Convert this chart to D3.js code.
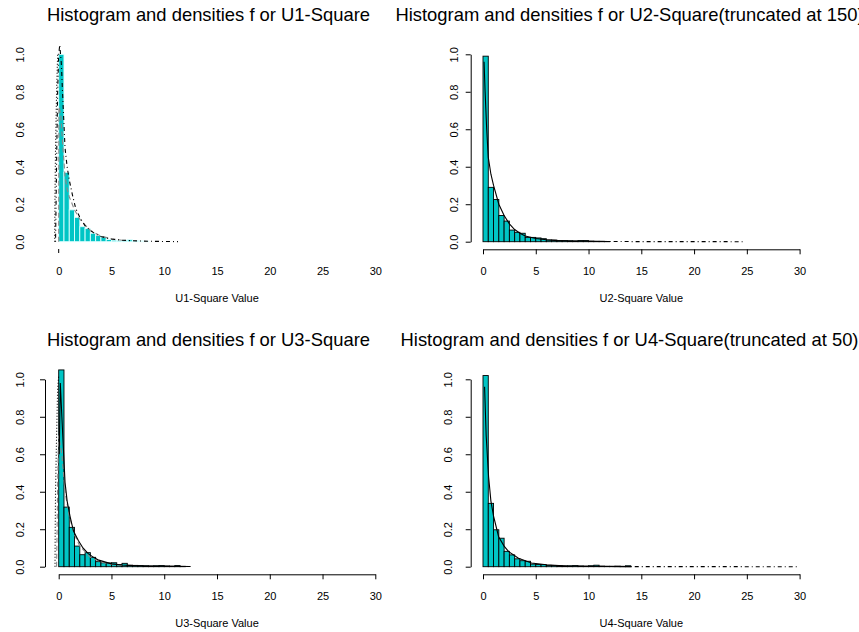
<!DOCTYPE html>
<html>
<head>
<meta charset="utf-8">
<script src="https://cdn.jsdelivr.net/npm/d3@7"></script>
<style>
  body { margin: 0; background: #fff; }
  svg text { font-family: "Liberation Sans", Arial, sans-serif; fill: #000; }
</style>
</head>
<body>
<div id="chart"></div>
<script>
// histogram bin width and axis ticks
const binWidth = 0.5;
const xTicks = [0, 5, 10, 15, 20, 25, 30];
const yTicks = [0, 0.2, 0.4, 0.6, 0.8, 1.0];

const titles = [
  "Histogram and densities f or U1-Square",
  "Histogram and densities f or U2-Square(truncated at 150)",
  "Histogram and densities f or U3-Square",
  "Histogram and densities f or U4-Square(truncated at 50)"
];
const xLabels = ["U1-Square Value", "U2-Square Value", "U3-Square Value", "U4-Square Value"];

// bar heights (density) per 0.5 bin, starting at 0
const u1Hist = [1.0, 0.37, 0.17, 0.13, 0.08, 0.07, 0.045, 0.033, 0.025, 0.012, 0.008, 0.006, 0.008, 0.01, 0.006, 0.004, 0.003];
const u2Hist = [0.99, 0.29, 0.225, 0.14, 0.11, 0.062, 0.05, 0.045, 0.023, 0.023, 0.02, 0.016, 0.009, 0.009, 0.006, 0.006,
                0.005, 0.004, 0.006, 0.006, 0.003, 0.002, 0.002, 0.001];
const u3Hist = [1.05, 0.318, 0.21, 0.11, 0.064, 0.075, 0.05, 0.027, 0.021, 0.02, 0.021, 0.012, 0.018, 0.008, 0.007, 0.006,
                0.005, 0.004, 0.005, 0.006, 0.004, 0.003, 0.006, 0.002];
const u4Hist = [1.02, 0.338, 0.197, 0.152, 0.082, 0.063, 0.042, 0.032, 0.029, 0.014, 0.012, 0.011, 0.007, 0.006, 0.005, 0.004,
                0.005, 0.006, 0.004, 0.003, 0.005, 0.008, 0.003, 0.002, 0.002, 0.003, 0.002, 0.005];

// density curves, [x, y]
const u1DotDash = [[-0.3, 0], [-0.25, 0.2], [-0.18, 0.5], [-0.1, 0.8], [0, 1.0], [0.1, 1.05], [0.25, 0.95], [0.4, 0.75],
                   [0.6, 0.5], [0.8, 0.4], [1.0, 0.33], [1.3, 0.25], [1.6, 0.18], [2, 0.13], [2.5, 0.085], [3, 0.06],
                   [3.5, 0.04], [4, 0.028], [4.5, 0.02], [5, 0.014], [6, 0.008], [7, 0.005], [8, 0.003], [9, 0.002],
                   [10, 0.001], [11.3, 0.0005]];
const u1Dashed = [[0, 0], [0.02, 0.72], [0.2, 0.68], [0.4, 0.5], [0.6, 0.35], [0.8, 0.28], [1, 0.24], [1.5, 0.17],
                  [2, 0.12], [3, 0.06], [4, 0.03], [5, 0.015], [6, 0.008]];
const u1Dotted = [[-0.38, 0], [-0.35, 0.25], [-0.3, 0.5], [-0.2, 0.8], [-0.1, 1.0]];

const u2Solid = [[0.1, 0.96], [0.2, 0.8], [0.35, 0.6], [0.5, 0.45], [0.75, 0.36], [1, 0.3], [1.5, 0.2], [2, 0.14],
                 [2.5, 0.095], [3, 0.065], [3.5, 0.045], [4, 0.03], [5, 0.017], [6, 0.01], [7, 0.006], [8, 0.004],
                 [10, 0.002], [12, 0.001]];
const u2DotDash = [[12, 0.001], [15, 0.0005], [20, 0.0002], [24.8, 0.0001]];

const u3Solid = [[0.05, 0.6], [0.15, 0.98], [0.3, 0.8], [0.6, 0.45], [0.8, 0.35], [1.07, 0.27], [1.4, 0.19], [1.86, 0.14],
                 [2.3, 0.1], [2.8, 0.07], [3.3, 0.05], [3.8, 0.035], [5, 0.015], [6, 0.009], [7, 0.006], [8, 0.004],
                 [10, 0.002], [12.5, 0.001]];
const u3Dashed = [[-0.2, 0], [-0.15, 0.2], [-0.1, 0.45], [-0.05, 0.6], [0, 0.7], [0.3, 0.6], [0.6, 0.4], [1, 0.27],
                  [1.5, 0.17], [2, 0.11], [3, 0.05], [4, 0.025], [5, 0.012], [6, 0.007]];
const u3Dotted = [[-0.35, 0], [-0.33, 0.2], [-0.3, 0.4], [-0.2, 0.7], [-0.1, 0.95], [0, 1.02]];

const u4Solid = [[0.15, 0.96], [0.3, 0.7], [0.53, 0.48], [0.75, 0.35], [1.0, 0.27], [1.48, 0.16], [2, 0.11], [2.43, 0.08],
                 [3.36, 0.045], [4.6, 0.02], [6, 0.01], [8, 0.004], [10, 0.002], [14, 0.0005]];
const u4DotDash = [[14, 0.0005], [18, 0.0003], [22, 0.0002], [26, 0.0001], [30, 0]];

const panels = [
  { hist: u1Hist, stroke: "#E0FFFF", axes: false,
    curves: [{ d: u1Dashed, color: "#888", dash: "5,3" }, { d: u1Dotted, color: "#000", dash: "1,2" },
             { d: u1DotDash, color: "#000", dash: "1,3,4,3" }],
    ox: 0, oy: 0, labelX: 19.5, titleX: 208.5 },
  { hist: u2Hist, stroke: "#000", axes: true,
    curves: [{ d: u2Solid, color: "#000", dash: null }, { d: u2DotDash, color: "#000", dash: "1,3,4,3" }],
    ox: 424.3, oy: 0, labelX: 454, titleX: 629.5 },
  { hist: u3Hist, stroke: "#000", axes: true,
    curves: [{ d: u3Dashed, color: "#888", dash: "5,3" }, { d: u3Dotted, color: "#000", dash: "1,2" },
             { d: u3Solid, color: "#000", dash: null }],
    ox: 0, oy: 325, labelX: 19.5, titleX: 208.5 },
  { hist: u4Hist, stroke: "#000", axes: true,
    curves: [{ d: u4Solid, color: "#000", dash: null }, { d: u4DotDash, color: "#000", dash: "1,3,4,3" }],
    ox: 424.3, oy: 325, labelX: 448, titleX: 629.5 }
];

const width = 859, height = 632;
const svg = d3.select("#chart").append("svg")
  .attr("width", width)
  .attr("height", height);

panels.forEach((p, i) => {
  let g = svg.append("g").attr("transform", `translate(${p.ox}, ${p.oy})`);

  let x = d3.scaleLinear().domain([0, 30]).range([58.7, 375.3]);
  let y = d3.scaleLinear().domain([0, 1]).range([241.7, 54.3]);

  // bars
  g.selectAll("rect")
    .data(p.hist)
    .enter()
    .append("rect")
    .attr("x", (d, j) => x(j * binWidth))
    .attr("width", (d, j) => x((j + 1) * binWidth) - x(j * binWidth))
    .attr("y", d => y(d))
    .attr("height", d => y(0) - y(d))
    .attr("fill", "#00C5C5")
    .attr("stroke", p.stroke)
    .attr("stroke-width", 0.9);

  // density lines
  let line = d3.line().x(d => x(d[0])).y(d => y(d[1]));
  p.curves.forEach(c => {
    g.append("path")
      .attr("d", line(c.d))
      .attr("fill", "none")
      .attr("stroke", c.color)
      .attr("stroke-width", 1.1)
      .attr("stroke-dasharray", c.dash);
  });

  // axes, R style
  let xAxis = d3.axisBottom(x).tickValues(xTicks).tickSize(5).tickSizeOuter(0);
  let yAxis = d3.axisLeft(y).tickValues(yTicks).tickSize(5).tickSizeOuter(0).tickFormat(d3.format(".1f"));

  let yAxisX = p.ox ? 470.7 - p.ox : 45;

  let xg = g.append("g")
    .attr("transform", "translate(0, 249.3)")
    .call(xAxis);
  let yg = g.append("g")
    .attr("transform", `translate(${yAxisX}, 0)`)
    .call(yAxis);

  [xg, yg].forEach(ax => {
    ax.select(".domain").attr("stroke", "#000").attr("stroke-width", 1);
    ax.selectAll(".tick line").attr("stroke", "#000");
    ax.selectAll("text").style("font-size", "11px").attr("fill", "#000");
  });
  xg.selectAll(".tick text").attr("dy", "0.71em").attr("y", 18);

  // rotated y labels
  let labelOffset = (p.labelX - p.ox) - yAxisX + 4;
  yg.selectAll(".tick text")
    .attr("x", null).attr("dy", null)
    .attr("text-anchor", "middle")
    .attr("transform", `translate(${labelOffset}, 0) rotate(-90)`);

  if (!p.axes) {
    xg.select(".domain").remove();
    yg.select(".domain").remove();
    xg.selectAll(".tick line").remove();
    yg.selectAll(".tick line").remove();
    g.append("line")
      .attr("x1", x(0)).attr("x2", x(0))
      .attr("y1", 249).attr("y2", 253)
      .attr("stroke", "#000");
  }

  // title and x label
  g.append("text")
    .attr("x", p.titleX - p.ox)
    .attr("y", 21)
    .attr("text-anchor", "middle")
    .style("font-size", "18.4px")
    .text(titles[i]);

  g.append("text")
    .attr("x", (x(0) + x(30)) / 2)
    .attr("y", 302)
    .attr("text-anchor", "middle")
    .style("font-size", "11px")
    .text(xLabels[i]);
});
</script>
</body>
</html>
